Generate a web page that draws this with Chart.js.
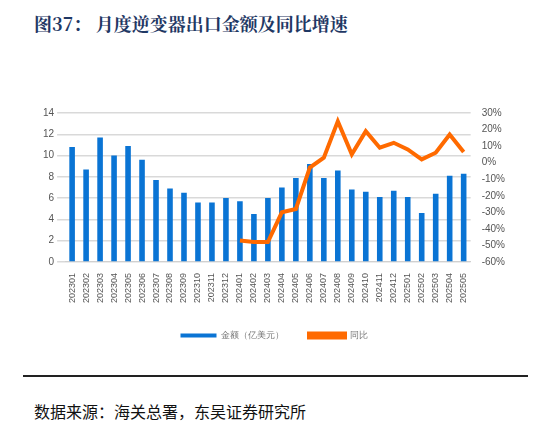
<!DOCTYPE html>
<html><head><meta charset="utf-8">
<script src="https://cdn.jsdelivr.net/npm/chart.js@4"></script>
<style>
body{margin:0;width:555px;height:439px;background:#fff;position:relative;font-family:"Noto Sans CJK SC",sans-serif;}
#title{position:absolute;left:34px;top:10px;font-size:18px;font-weight:bold;color:#1f3864;font-family:"Noto Serif CJK SC","Noto Sans CJK SC",serif;}
#box{position:absolute;left:40px;top:104px;width:468px;height:246px;}
#rule{position:absolute;left:23px;top:375px;width:505px;height:2px;background:#222;}
#src{position:absolute;left:34px;top:399px;font-size:16px;color:#111;}
</style></head><body>
<div id="title">图37：&nbsp;月度逆变器出口金额及同比增速</div>
<div id="box"><canvas id="c"></canvas></div>
<div id="rule"></div>
<div id="src">数据来源：海关总署，东吴证券研究所</div>
<script>
const meses=["202301","202302","202303","202304","202305","202306","202307","202308","202309","202310","202311","202312",
"202401","202402","202403","202404","202405","202406","202407","202408","202409","202410","202411","202412",
"202501","202502","202503","202504","202505"];
const monto=[10.8,8.7,11.7,10.0,10.9,9.6,7.7,6.9,6.5,5.6,5.6,6.0,5.7,4.5,6.0,7.0,7.9,9.2,7.9,8.6,6.8,6.6,6.1,6.7,6.1,4.6,6.4,8.1,8.3];
const yoy=[null,null,null,null,null,null,null,null,null,null,null,null,
-47,-48,-48,-30,-28,-3,3,25,5,19,9,12,8,2,6,17,6.5];

new Chart(document.getElementById("c"),{
data:{labels:meses,datasets:[
{type:"line",label:"同比",data:yoy,yAxisID:"y2",borderColor:"#ff6a00",backgroundColor:"#ff6a00",borderWidth:4,pointRadius:0,tension:0},
{type:"bar",label:"金额（亿美元）",data:monto,yAxisID:"y",backgroundColor:"#0a74d4",barPercentage:0.4,categoryPercentage:1}
]},
options:{responsive:true,maintainAspectRatio:false,animation:false,
scales:{
x:{grid:{display:false},border:{color:"#d0d0d0"},ticks:{color:"#555",font:{size:9,family:"Liberation Sans"},minRotation:90,maxRotation:90,autoSkip:false}},
y:{position:"left",min:0,max:14,ticks:{stepSize:2,color:"#555",font:{size:10,family:"Liberation Sans"}},grid:{color:"#d9d9d9",lineWidth:1.5},border:{display:false}},
y2:{position:"right",min:-60,max:30,ticks:{stepSize:10,color:"#555",font:{size:10,family:"Liberation Sans"},callback:v=>v+"%"},grid:{display:false},border:{display:false}}
},
plugins:{legend:{position:"bottom",reverse:true,labels:{color:"#777",font:{size:9},boxWidth:36,boxHeight:4,padding:25}},tooltip:{enabled:false}}
}});
</script>
</body></html>
